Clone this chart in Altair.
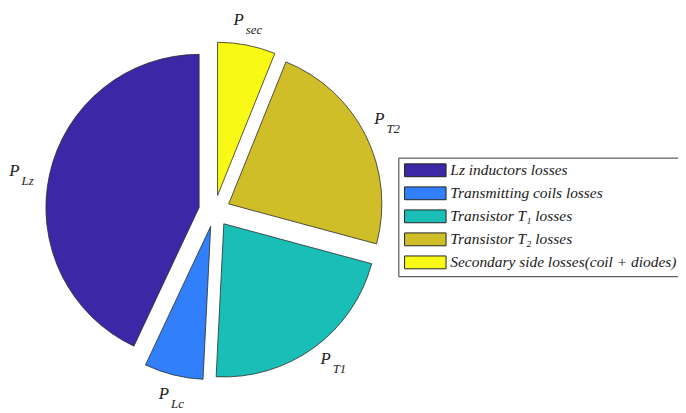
import altair as alt
import pandas as pd

# ---- data ----
categories = [
    "Lz inductors losses",
    "Transmitting coils losses",
    "Transistor T\u2081 losses",
    "Transistor T\u2082 losses",
    "Secondary side losses(coil + diodes)",
]
label_subs = ["Lz", "Lc", "T1", "T2", "sec"]
values = [43.0, 6.2, 21.6, 23.1, 6.1]
colors = ["#3c27a7", "#317ffa", "#19bfb6", "#d0be29", "#f8f915"]

df = pd.DataFrame({"cat": categories, "sub": label_subs, "value": values,
                   "k": list(range(len(values)))})

UNIT = 203.0             # pixels per data unit
EXPLODE = 16 / UNIT      # slice explode distance
LABEL_RX = 198 / UNIT    # label distance (horizontal)
LABEL_RY = 192.5 / UNIT  # label distance (vertical, keeps labels inside)
LABEL_ROT = -0.026       # small label angle shift (radians)
W, H = 406, 405

xs = alt.Scale(domain=[-1, (W - UNIT) / UNIT])
ys = alt.Scale(domain=[-(H - UNIT) / UNIT, 1])

base = (
    alt.Chart(df)
    .transform_joinaggregate(total="sum(value)")
    .transform_window(cum="sum(value)", sort=[alt.SortField("k", order="descending")],
                      frame=[None, 0])
    .transform_calculate(
        t0="(datum.cum - datum.value) / datum.total * 2 * PI",
        t1="datum.cum / datum.total * 2 * PI",
    )
    .transform_calculate(mid="(datum.t0 + datum.t1) / 2")
    .transform_calculate(
        ex=f"sin(datum.mid) * {EXPLODE}",
        ey=f"cos(datum.mid) * {EXPLODE}",
        lx=f"sin(datum.mid + {LABEL_ROT}) * {LABEL_RX}",
        ly=f"cos(datum.mid + {LABEL_ROT}) * {LABEL_RY}",
    )
)

legend = alt.Legend(
    orient="none", legendX=389, legendY=149, title=None,
    symbolType="M-1,-1H5.46V1H-1Z", symbolSize=169,
    symbolStrokeColor="#222", symbolStrokeWidth=1, symbolOpacity=1,
    labelFont="Liberation Serif", labelFontStyle="italic", labelFontSize=15.6,
    labelColor="#1a1a1a", labelLimit=400, labelOffset=32,
    padding=5, rowPadding=5.3, strokeColor="#333", fillColor="white",
)

pie = base.mark_arc(outerRadius=155, stroke="#2a2a2a", strokeWidth=0.8).encode(
    x=alt.X("ex:Q", scale=xs, axis=None),
    y=alt.Y("ey:Q", scale=ys, axis=None),
    theta=alt.Theta("t0:Q", scale=None, stack=None),
    theta2="t1:Q",
    color=alt.Color("cat:N", scale=alt.Scale(domain=categories, range=colors),
                    sort=categories, legend=legend),
)

ptext = base.mark_text(
    text="P", align="right", baseline="alphabetic", dx=-3, dy=2,
    font="Liberation Serif", fontStyle="italic", fontSize=17, color="#222",
).encode(
    x=alt.X("lx:Q", scale=xs, axis=None),
    y=alt.Y("ly:Q", scale=ys, axis=None),
)

stext = base.mark_text(
    align="left", baseline="alphabetic", dx=-1, dy=11,
    font="Liberation Serif", fontStyle="italic", fontSize=13, color="#222",
).encode(
    x=alt.X("lx:Q", scale=xs, axis=None),
    y=alt.Y("ly:Q", scale=ys, axis=None),
    text="sub:N",
)

chart = (
    alt.layer(pie, ptext, stext)
    .properties(width=W, height=H,
                padding={"left": 6, "top": 0, "right": 266, "bottom": 0},
                autosize=alt.AutoSizeParams(type="none"))
    .configure_view(stroke=None)
)

chart.save("out.html", embed_options={"renderer": "svg", "actions": False})
